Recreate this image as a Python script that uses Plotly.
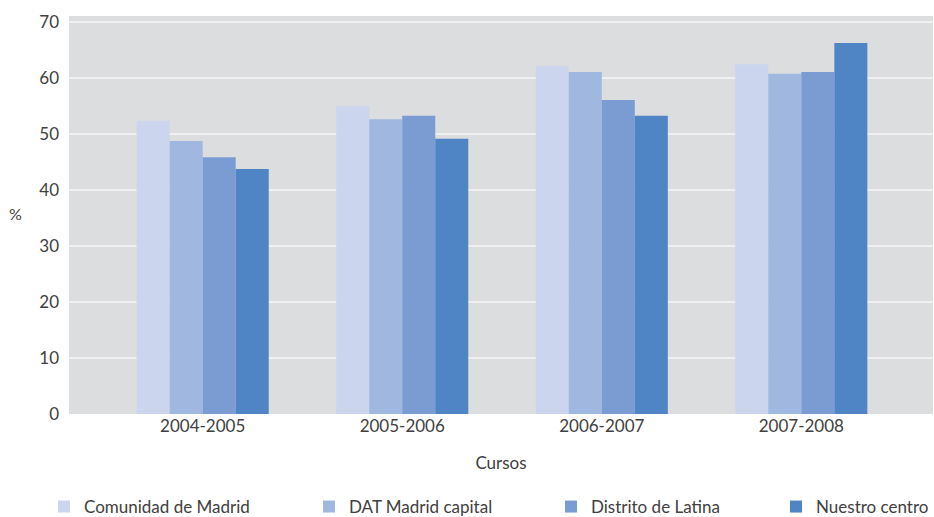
import plotly.graph_objects as go

cursos = ["2004-2005", "2005-2006", "2006-2007", "2007-2008"]
series_names = ["Comunidad de Madrid", "DAT Madrid capital", "Distrito de Latina", "Nuestro centro"]
comunidad = [52.3, 54.9, 62.1, 62.4]
dat = [48.7, 52.6, 61.0, 60.7]
distrito = [45.8, 53.2, 56.0, 61.0]
nuestro = [43.7, 49.1, 53.2, 66.2]
y_ticks = [0, 10, 20, 30, 40, 50, 60, 70]

values = [comunidad, dat, distrito, nuestro]
colors = ["#cbd6ee", "#a0b7e0", "#7a9cd3", "#4f84c5"]
legend_ids = ["legend", "legend2", "legend3", "legend4"]
legend_x_px = [44, 309, 551, 776]

FONT = "Lato"
TXT = "#404040"

fig = go.Figure()
for name, vals, col, lid in zip(series_names, values, colors, legend_ids):
    fig.add_trace(go.Bar(x=cursos, y=vals, name=name, marker=dict(color=col, line=dict(width=0)),
                         legend=lid))

W, H = 934, 517
ml, mr, mt, mb = 69, 1, 16, 103
pw = W - ml - mr
ph = H - mt - mb

def px_to_paper_x(px):
    return (px - ml) / pw

def py_to_paper_y(py):
    return (H - mb - py) / ph

legend_common = dict(orientation="h", xanchor="left", yanchor="middle",
                     font=dict(family=FONT, size=17, color=TXT), bgcolor="rgba(0,0,0,0)",
                     borderwidth=0, itemwidth=30)
layout_legends = {}
for lid, lx in zip(legend_ids, legend_x_px):
    d = dict(legend_common)
    d.update(x=px_to_paper_x(lx), y=py_to_paper_y(507))
    layout_legends[lid] = d

fig.update_layout(
    width=W, height=H,
    margin=dict(l=ml, r=mr, t=mt, b=mb, pad=0, autoexpand=False),
    paper_bgcolor="white",
    plot_bgcolor="#dcdddf",
    barmode="group",
    bargap=0.338,
    bargroupgap=0,
    font=dict(family=FONT, size=16, color=TXT),
    showlegend=True,
    **layout_legends,
)
fig.update_xaxes(type="category", range=[-0.67, 3.66], showgrid=False, zeroline=False,
                 showline=False, ticks="", tickfont=dict(family=FONT, size=17, color=TXT),
                 title=dict(text="Cursos", font=dict(family=FONT, size=17, color=TXT), standoff=22))
fig.update_yaxes(range=[0, 71], tickvals=y_ticks, showgrid=True, gridcolor="#f0f0f0", gridwidth=2,
                 zeroline=False, showline=False, ticks="", ticklabelstandoff=9,
                 tickfont=dict(family=FONT, size=17, color=TXT))
fig.add_annotation(text="%", xref="paper", yref="paper", x=px_to_paper_x(15), y=py_to_paper_y(213),
                   showarrow=False, xanchor="center", yanchor="middle",
                   font=dict(family=FONT, size=16, color=TXT))

fig.write_html("out.html", config={"displayModeBar": False},
               post_script="document.body.style.margin='0';document.body.style.overflow='hidden';")
